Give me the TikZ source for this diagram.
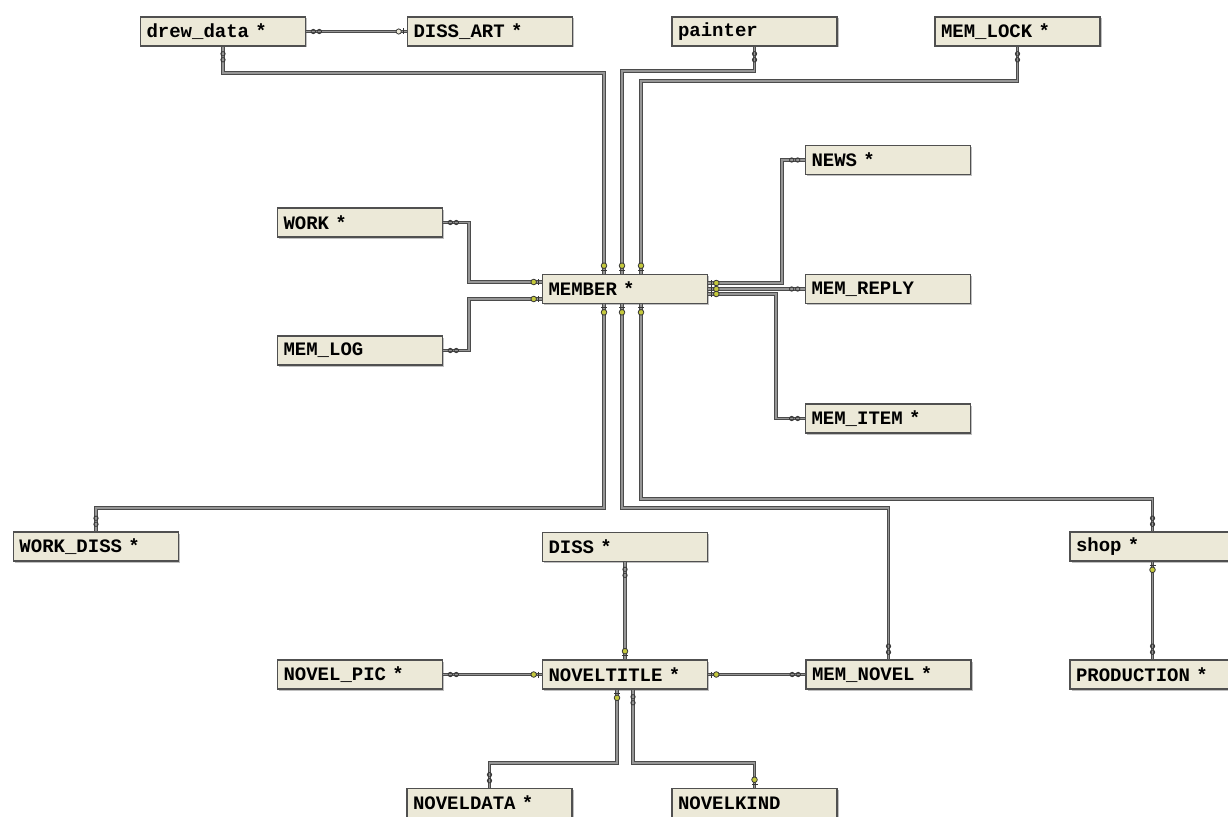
\documentclass[tikz,border=0pt]{standalone}
\usepackage{fontspec}
\usetikzlibrary{shadows}
\setmonofont{Liberation Mono}
\definecolor{boxfill}{RGB}{236,233,216}
\definecolor{boxedge}{RGB}{80,80,80}
\definecolor{connedge}{RGB}{75,75,75}
\definecolor{conncore}{RGB}{150,150,150}
\definecolor{keyfill}{RGB}{196,200,60}
\definecolor{markdark}{RGB}{55,55,55}
\begin{document}
\begin{tikzpicture}[x=1pt,y=-1pt,
  tbl/.style={draw=boxedge, fill=boxfill, line width=1.6pt,
    minimum height=29pt, minimum width=165pt, text width=153pt,
    inner xsep=6pt, inner ysep=0pt, align=left, anchor=center,
    drop shadow={shadow xshift=1.5pt, shadow yshift=-1.5pt, fill=gray!70, opacity=0.7},
    font=\ttfamily\bfseries\fontsize{19}{21}\selectfont},
  conn/.style={draw=connedge, line width=1pt, double=conncore,
    double distance=1.2pt, line join=miter},
  markline/.style={draw=markdark, line width=0.8pt},
  many/.pic={\draw[markline] (-3,0) circle (2.2pt) (3,0) circle (2.2pt);},
  key/.pic={\draw[markline, fill=keyfill] (0,0) circle (2.8pt);
            \draw[markline] (4.5,-3) -- (4.5,3);},
  plainkey/.pic={\draw[markline, fill=boxfill] (0,0) circle (2.6pt);
            \draw[markline] (4.5,-3) -- (4.5,3);}
]
\useasboundingbox (0,0) rectangle (1228,816);
\clip (0,0) rectangle (1228,816);
\fill[white] (0,0) rectangle (1228,816);

% tables
\node[tbl] (drewdata)   at (223,31.5)   {drew\_data *};
\node[tbl] (dissart)    at (490,31.5)   {DISS\_ART *};
\node[tbl] (painter)    at (754.5,31.5) {painter};
\node[tbl] (memlock)    at (1017.5,31.5){MEM\_LOCK *};
\node[tbl] (news)       at (888,160)    {NEWS *};
\node[tbl] (memreply)   at (888,289)    {MEM\_REPLY};
\node[tbl] (memitem)    at (888,418.5)  {MEM\_ITEM *};
\node[tbl] (work)       at (360,222.5)  {WORK *};
\node[tbl] (memlog)     at (360,350.5)  {MEM\_LOG};
\node[tbl] (member)     at (625,289)    {MEMBER *};
\node[tbl] (workdiss)   at (96,546.5)   {WORK\_DISS *};
\node[tbl] (diss)       at (625,547)    {DISS *};
\node[tbl] (shop)       at (1152.5,546.5){shop *};
\node[tbl] (novelpic)   at (360,674.5)  {NOVEL\_PIC *};
\node[tbl] (noveltitle) at (625,674.5)  {NOVELTITLE *};
\node[tbl] (memnovel)   at (888.5,674.5){MEM\_NOVEL *};
\node[tbl] (production) at (1152.5,674.5){PRODUCTION *};
\node[tbl] (noveldata)  at (489.5,803)  {NOVELDATA *};
\node[tbl] (novelkind)  at (754.5,803)  {NOVELKIND};

% attachment points on MEMBER and NOVELTITLE
\path ([xshift=-21pt]member.north) coordinate (mn1)
      ([xshift=-3pt]member.north)  coordinate (mn2)
      ([xshift=16pt]member.north)  coordinate (mn3)
      ([xshift=-21pt]member.south) coordinate (ms1)
      ([xshift=-3pt]member.south)  coordinate (ms2)
      ([xshift=16pt]member.south)  coordinate (ms3)
      ([yshift=7pt]member.west)    coordinate (mw1)
      ([yshift=-10pt]member.west)  coordinate (mw2)
      ([yshift=6pt]member.east)    coordinate (me1)
      ([yshift=-5pt]member.east)   coordinate (me3)
      ([xshift=-8pt]noveltitle.south) coordinate (nt1)
      ([xshift=8pt]noveltitle.south)  coordinate (nt2);

% relationships
\draw[conn] (drewdata.east) -- (dissart.west);
\draw[conn] (drewdata.south) |- (mn1 |- 0,73) -- (mn1);
\draw[conn] (painter.south) |- (mn2 |- 0,71) -- (mn2);
\draw[conn] (memlock.south) |- (mn3 |- 0,81) -- (mn3);
\draw[conn] (work.east) -- (work.east -| 469,0) |- (mw1);
\draw[conn] (memlog.east) -- (memlog.east -| 469,0) |- (mw2);
\draw[conn] (me1) -- (me1 -| 782,0) |- (news.west);
\draw[conn] (member.east) -- (memreply.west);
\draw[conn] (me3) -- (me3 -| 776,0) |- (memitem.west);
\draw[conn] (ms1) |- (workdiss.north |- 0,508) -- (workdiss.north);
\draw[conn] (ms2) |- (memnovel.north |- 0,508) -- (memnovel.north);
\draw[conn] (ms3) |- (shop.north |- 0,499) -- (shop.north);
\draw[conn] (diss.south) -- (noveltitle.north);
\draw[conn] (novelpic.east) -- (noveltitle.west);
\draw[conn] (noveltitle.east) -- (memnovel.west);
\draw[conn] (nt1) |- (noveldata.north |- 0,763) -- (noveldata.north);
\draw[conn] (nt2) |- (novelkind.north |- 0,763) -- (novelkind.north);
\draw[conn] (shop.south) -- (production.north);

% cardinality marks: many side
\pic at ([xshift=10pt]drewdata.east) {many};
\pic[rotate=90] at ([yshift=-10pt]drewdata.south) {many};
\pic[rotate=90] at ([yshift=-10pt]painter.south) {many};
\pic[rotate=90] at ([yshift=-10pt]memlock.south) {many};
\pic at ([xshift=10pt]work.east) {many};
\pic at ([xshift=10pt]memlog.east) {many};
\pic at ([xshift=-10pt]news.west) {many};
\pic at ([xshift=-10pt]memreply.west) {many};
\pic at ([xshift=-10pt]memitem.west) {many};
\pic[rotate=90] at ([yshift=10pt]workdiss.north) {many};
\pic[rotate=90] at ([yshift=10pt]memnovel.north) {many};
\pic[rotate=90] at ([yshift=10pt]shop.north) {many};
\pic[rotate=90] at ([yshift=-10pt]diss.south) {many};
\pic at ([xshift=10pt]novelpic.east) {many};
\pic at ([xshift=-10pt]memnovel.west) {many};
\pic[rotate=90] at ([yshift=-10pt]nt2) {many};
\pic[rotate=90] at ([yshift=10pt]noveldata.north) {many};
\pic[rotate=90] at ([yshift=10pt]production.north) {many};

% cardinality marks: key side
\pic at ([xshift=-8pt]dissart.west) {plainkey};
\pic[rotate=-90] at ([yshift=8pt]mn1) {key};
\pic[rotate=-90] at ([yshift=8pt]mn2) {key};
\pic[rotate=-90] at ([yshift=8pt]mn3) {key};
\pic[rotate=90] at ([yshift=-8pt]ms1) {key};
\pic[rotate=90] at ([yshift=-8pt]ms2) {key};
\pic[rotate=90] at ([yshift=-8pt]ms3) {key};
\pic at ([xshift=-8pt]mw1) {key};
\pic at ([xshift=-8pt]mw2) {key};
\pic[rotate=180] at ([xshift=8pt]me1) {key};
\pic[rotate=180] at ([xshift=8pt]member.east) {key};
\pic[rotate=180] at ([xshift=8pt]me3) {key};
\pic[rotate=-90] at ([yshift=8pt]noveltitle.north) {key};
\pic at ([xshift=-8pt]noveltitle.west) {key};
\pic[rotate=180] at ([xshift=8pt]noveltitle.east) {key};
\pic[rotate=90] at ([yshift=-8pt]nt1) {key};
\pic[rotate=-90] at ([yshift=8pt]novelkind.north) {key};
\pic[rotate=90] at ([yshift=-8pt]shop.south) {key};
\end{tikzpicture}
\end{document}
